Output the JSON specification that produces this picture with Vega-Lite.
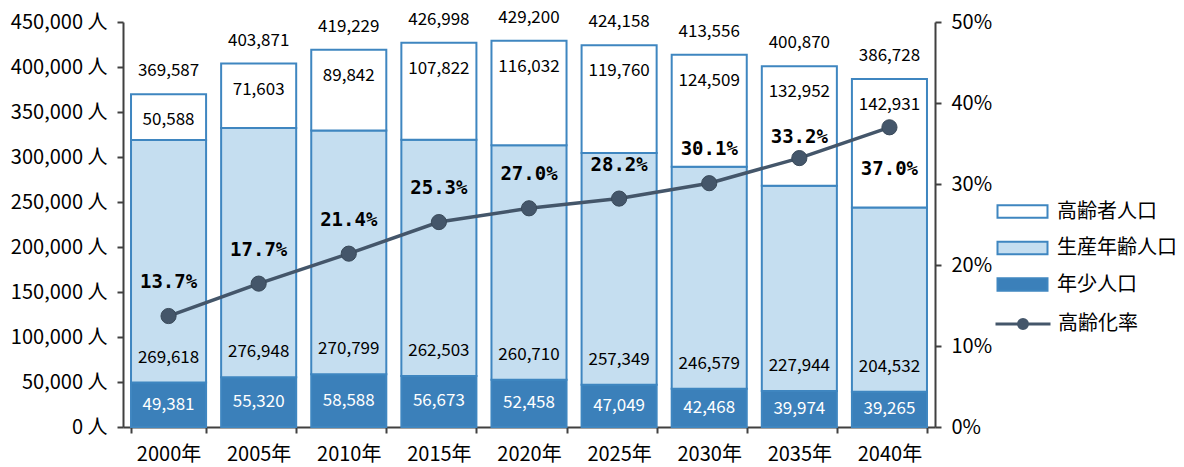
{
  "$schema": "https://vega.github.io/schema/vega-lite/v6.json",
  "width": 812,
  "height": 405,
  "autosize": "none",
  "padding": {"left": 123, "top": 22, "right": 249, "bottom": 40},
  "background": "white",
  "config": {
    "view": {"stroke": null},
    "font": "Noto Sans CJK JP",
    "axis": {
      "domainColor": "#404040",
      "domainWidth": 2,
      "tickColor": "#404040",
      "tickWidth": 2,
      "tickSize": 6,
      "grid": false,
      "labelColor": "#000000",
      "labelFont": "Noto Sans CJK JP",
      "labelFontSize": 20,
      "title": null
    },
    "legend": {
      "padding": 0,
      "labelFont": "Noto Sans CJK JP",
      "labelFontSize": 20,
      "labelColor": "#000000"
    }
  },
  "data": {
    "values": [
      {"year": "2000年", "年少人口": 49381, "生産年齢人口": 269618, "高齢者人口": 50588, "total": 369587, "rate": 0.137},
      {"year": "2005年", "年少人口": 55320, "生産年齢人口": 276948, "高齢者人口": 71603, "total": 403871, "rate": 0.177},
      {"year": "2010年", "年少人口": 58588, "生産年齢人口": 270799, "高齢者人口": 89842, "total": 419229, "rate": 0.214},
      {"year": "2015年", "年少人口": 56673, "生産年齢人口": 262503, "高齢者人口": 107822, "total": 426998, "rate": 0.253},
      {"year": "2020年", "年少人口": 52458, "生産年齢人口": 260710, "高齢者人口": 116032, "total": 429200, "rate": 0.270},
      {"year": "2025年", "年少人口": 47049, "生産年齢人口": 257349, "高齢者人口": 119760, "total": 424158, "rate": 0.282},
      {"year": "2030年", "年少人口": 42468, "生産年齢人口": 246579, "高齢者人口": 124509, "total": 413556, "rate": 0.301},
      {"year": "2035年", "年少人口": 39974, "生産年齢人口": 227944, "高齢者人口": 132952, "total": 400870, "rate": 0.332},
      {"year": "2040年", "年少人口": 39265, "生産年齢人口": 204532, "高齢者人口": 142931, "total": 386728, "rate": 0.370}
    ]
  },
  "encoding": {
    "x": {
      "field": "year",
      "type": "nominal",
      "sort": null,
      "scale": {"paddingInner": 0.167, "paddingOuter": 0.089},
      "axis": {"labelAngle": 0, "tickBand": "extent", "labelPadding": 11}
    }
  },
  "layer": [
    {
      "transform": [{"fold": ["年少人口", "生産年齢人口", "高齢者人口"], "as": ["区分", "人口"]}],
      "mark": {"type": "bar", "stroke": "#3f86c0", "strokeWidth": 2},
      "encoding": {
        "y": {
          "field": "人口",
          "type": "quantitative",
          "stack": "zero",
          "scale": {"domain": [0, 450000], "nice": false},
          "axis": {"values": [0, 50000, 100000, 150000, 200000, 250000, 300000, 350000, 400000, 450000], "labelExpr": "format(datum.value, ',') + ' 人'", "labelPadding": 10}
        },
        "fill": {
          "field": "区分",
          "type": "nominal",
          "scale": {"domain": ["高齢者人口", "生産年齢人口", "年少人口"], "range": ["#ffffff", "#c5def0", "#3b80ba"]},
          "legend": {
            "title": null,
            "orient": "none",
            "legendX": 886,
            "legendY": 176,
            "symbolType": "M-2,-0.5H2V0.5H-2Z",
            "symbolSize": 625,
            "symbolStrokeColor": "#3f86c0",
            "symbolStrokeWidth": 2,
            "labelOffset": 21,
            "rowPadding": 12.5
          }
        },
        "order": {"field": "区分", "sort": "ascending"}
      }
    },
    {
      "mark": {"type": "text", "color": "#ffffff", "fontSize": 17, "baseline": "middle"},
      "encoding": {
        "y": {"field": "年少人口", "type": "quantitative", "scale": {"domain": [0, 900000], "nice": false}, "axis": null},
        "text": {"field": "年少人口", "type": "quantitative", "format": ","}
      }
    },
    {
      "mark": {"type": "text", "color": "#000000", "fontSize": 17, "baseline": "middle", "dy": -25},
      "encoding": {
        "y": {"field": "年少人口", "type": "quantitative", "scale": {"domain": [0, 450000], "nice": false}, "axis": null},
        "text": {"field": "生産年齢人口", "type": "quantitative", "format": ","}
      }
    },
    {
      "mark": {"type": "text", "color": "#000000", "fontSize": 17, "baseline": "middle", "dy": 26},
      "encoding": {
        "y": {"field": "total", "type": "quantitative", "scale": {"domain": [0, 450000], "nice": false}, "axis": null},
        "text": {"field": "高齢者人口", "type": "quantitative", "format": ","}
      }
    },
    {
      "mark": {"type": "text", "color": "#000000", "fontSize": 17, "baseline": "middle", "dy": -23},
      "encoding": {
        "y": {"field": "total", "type": "quantitative", "scale": {"domain": [0, 450000], "nice": false}, "axis": null},
        "text": {"field": "total", "type": "quantitative", "format": ","}
      }
    },
    {
      "mark": {"type": "line", "strokeWidth": 3.5},
      "encoding": {
        "y": {
          "field": "rate",
          "type": "quantitative",
          "scale": {"domain": [0, 0.5], "nice": false},
          "axis": {"orient": "right", "values": [0, 0.1, 0.2, 0.3, 0.4, 0.5], "format": ".0%", "labelPadding": 10}
        },
        "stroke": {
          "datum": "高齢化率",
          "type": "nominal",
          "scale": {"range": ["#44566a"]},
          "legend": {
            "title": null,
            "orient": "none",
            "legendX": 886,
            "legendY": 288,
            "symbolType": "M-2.2,0H2.2M0.36,0A0.36,0.36 0 1,1 -0.36,0A0.36,0.36 0 1,1 0.36,0Z",
            "symbolSize": 625,
            "symbolStrokeWidth": 3,
            "symbolFillColor": "#44566a",
            "labelOffset": 21,
            "encode": {"symbols": {"update": {"fill": {"value": "#44566a"}, "stroke": {"value": "#44566a"}, "strokeWidth": {"value": 3}}}}
          }
        }
      }
    },
    {
      "mark": {"type": "point", "filled": true, "size": 230, "color": "#44566a", "opacity": 1, "stroke": "#3a4a5a", "strokeWidth": 1},
      "encoding": {
        "y": {"field": "rate", "type": "quantitative", "scale": {"domain": [0, 0.5], "nice": false}, "axis": null}
      }
    },
    {
      "transform": [{"filter": {"field": "year", "oneOf": ["2000年", "2005年", "2010年", "2015年", "2020年", "2025年", "2030年"]}}],
      "mark": {"type": "text", "font": "DejaVu Sans Mono", "fontWeight": "bold", "fontSize": 19, "color": "#000000", "baseline": "middle", "dy": -34},
      "encoding": {
        "y": {"field": "rate", "type": "quantitative", "scale": {"domain": [0, 0.5], "nice": false}, "axis": null},
        "text": {"field": "rate", "type": "quantitative", "format": ".1%"}
      }
    },
    {
      "transform": [{"filter": {"field": "year", "equal": "2035年"}}],
      "mark": {"type": "text", "font": "DejaVu Sans Mono", "fontWeight": "bold", "fontSize": 19, "color": "#000000", "baseline": "middle", "dy": -21},
      "encoding": {
        "y": {"field": "rate", "type": "quantitative", "scale": {"domain": [0, 0.5], "nice": false}, "axis": null},
        "text": {"field": "rate", "type": "quantitative", "format": ".1%"}
      }
    },
    {
      "transform": [{"filter": {"field": "year", "equal": "2040年"}}],
      "mark": {"type": "text", "font": "DejaVu Sans Mono", "fontWeight": "bold", "fontSize": 19, "color": "#000000", "baseline": "middle", "dy": 42},
      "encoding": {
        "y": {"field": "rate", "type": "quantitative", "scale": {"domain": [0, 0.5], "nice": false}, "axis": null},
        "text": {"field": "rate", "type": "quantitative", "format": ".1%"}
      }
    }
  ],
  "resolve": {"scale": {"y": "independent"}, "axis": {"y": "independent"}}
}
